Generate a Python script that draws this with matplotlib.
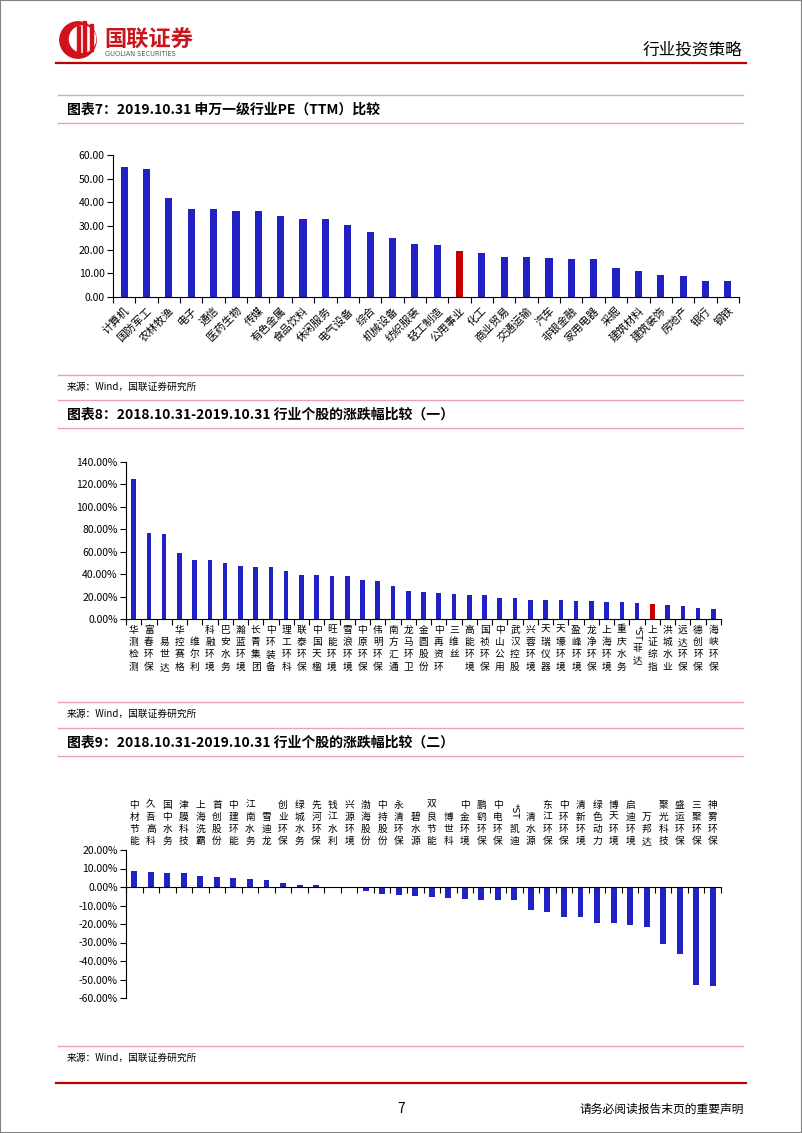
import matplotlib
matplotlib.use('Agg')
import matplotlib.pyplot as plt
from matplotlib.lines import Line2D
from matplotlib.patches import Circle, Rectangle
from matplotlib.ticker import FuncFormatter
import numpy as np

plt.rcParams['font.family'] = ['Noto Sans CJK SC', 'DejaVu Sans']

# 图表7 申万一级行业 PE(TTM)
pe_inds = ['计算机', '国防军工', '农林牧渔', '电子', '通信', '医药生物', '传媒', '有色金属',
           '食品饮料', '休闲服务', '电气设备', '综合', '机械设备', '纺织服装', '轻工制造',
           '公用事业', '化工', '商业贸易', '交通运输', '汽车', '非银金融', '家用电器', '采掘',
           '建筑材料', '建筑装饰', '房地产', '银行', '钢铁']
pe_vals = [55.0, 54.0, 41.8, 37.3, 37.0, 36.5, 36.2, 34.4, 33.0, 32.8, 30.4, 27.3, 24.9, 22.5,
           22.1, 19.4, 18.5, 17.0, 16.9, 16.6, 16.2, 16.1, 12.4, 11.0, 9.3, 9.0, 6.8, 6.8]

# 图表8 涨跌幅（一）
up_names = ['华测检测', '富春环保', '　易世达', '华控赛格', '　维尔利', '科融环境', '巴安水务',
            '瀚蓝环境', '长青集团', '中环装备', '理工环科', '联泰环保', '中国天楹', '旺能环境',
            '雪浪环境', '中原环保', '伟明环保', '南方汇通', '龙马环卫', '金圆股份', '中再资环',
            '三维丝', '高能环境', '国祯环保', '中山公用', '武汉控股', '兴蓉环境', '天瑞仪器',
            '天壕环境', '盈峰环境', '龙净环保', '上海环境', '重庆水务', '*ST菲达', '上证综指',
            '洪城水业', '远达环保', '德创环保', '海峡环保']
up_vals = [125.1, 76.4, 75.8, 58.9, 52.9, 52.3, 50.0, 46.9, 46.6, 46.4, 42.8, 39.5, 38.9, 38.6,
           38.3, 34.8, 33.5, 29.4, 25.0, 24.4, 23.2, 22.6, 21.4, 21.1, 19.0, 18.7, 17.2, 16.9,
           16.7, 16.0, 15.8, 15.5, 14.8, 14.2, 13.0, 12.5, 11.6, 9.8, 8.9]

# 图表9 涨跌幅（二）
dn_names = ['中材节能', '久吾高科', '国中水务', '津膜科技', '上海洗霸', '首创股份', '中建环能',
            '江南水务', '雪迪龙', '创业环保', '绿城水务', '先河环保', '钱江水利', '兴源环境',
            '渤海股份', '中持股份', '永清环保', '碧水源', '双良节能', '博世科', '中金环境',
            '鹏鹞环保', '中电环保', '*ST凯迪', '清水源', '东江环保', '中环环保', '清新环境',
            '绿色动力', '博天环境', '启迪环境', '万邦达', '聚光科技', '盛运环保', '三聚环保',
            '神雾环保']
dn_vals = [8.9, 8.2, 7.7, 7.6, 5.9, 5.5, 4.6, 4.2, 3.7, 2.3, 1.3, 1.1, 0.2, -0.6, -1.9, -3.7,
           -4.2, -5.1, -5.5, -5.7, -6.6, -6.9, -7.1, -7.1, -12.6, -13.4, -16.0, -16.3, -19.2,
           -19.7, -20.5, -21.4, -30.8, -36.2, -52.8, -53.5]

BLUE = '#2121c4'
RED = '#c40000'
PINK = '#e7a4b8'

W, H = 802, 1133
fig = plt.figure(figsize=(8.02, 11.33), dpi=100)


def fx(x):
    return x / W


def fy(y):
    return 1 - y / H


def hline(y, x0, x1, color, lw):
    fig.add_artist(Line2D([fx(x0), fx(x1)], [fy(y), fy(y)], color=color, lw=lw))


def make_axes(x0, x1, ytop, ybot):
    ax = fig.add_axes([fx(x0), fy(ybot), fx(x1) - fx(x0), (ybot - ytop) / H])
    for s in ['top', 'right']:
        ax.spines[s].set_visible(False)
    for s in ['left', 'bottom']:
        ax.spines[s].set_linewidth(0.8)
    ax.tick_params(axis='y', length=4, width=0.8, direction='out', labelsize=7.5, pad=2)
    return ax


def stacked_labels(ax, names, below=True, fs=7, ls=1.3, off=4):
    for i, name in enumerate(names):
        st = ''
        if name.startswith('*ST'):
            st, name = '*ST', name[3:]
        body = '\n'.join(name)
        if below:
            if st:
                ax.annotate(st, (i, 0), xycoords=('data', 'axes fraction'),
                            xytext=(0, -off), textcoords='offset points', rotation=-90,
                            ha='center', va='top', fontsize=6.5, family='DejaVu Sans')
                yo = -off - 13
            else:
                yo = -off
            ax.annotate(body, (i, 0), xycoords=('data', 'axes fraction'),
                        xytext=(0, yo), textcoords='offset points', ha='center', va='top',
                        fontsize=fs, linespacing=ls)
        else:
            ax.annotate(body, (i, 1), xycoords=('data', 'axes fraction'),
                        xytext=(0, off), textcoords='offset points', ha='center', va='bottom',
                        fontsize=fs, linespacing=ls)
            if st:
                nl = len(name)
                ax.annotate(st, (i, 1), xycoords=('data', 'axes fraction'),
                            xytext=(0, off + nl * fs * ls * 1.05 + 1), textcoords='offset points',
                            rotation=-90, ha='center', va='bottom', fontsize=6.5,
                            family='DejaVu Sans')


# page frame
fig.add_artist(Rectangle((0, 0), 1, 1, transform=fig.transFigure, fill=False,
                         ec='#808080', lw=1.5))

# header
logo = fig.add_axes([fx(58), fy(60), fx(40), 40 / H])
logo.set_xlim(-1.1, 1.1)
logo.set_ylim(-1.1, 1.1)
logo.set_aspect('equal')
logo.axis('off')
logo.add_patch(Circle((0, 0), 1.0, color='#d1121b'))
logo.add_patch(Circle((0.25, 0.05), 0.72, color='white'))
for xb, yb, hb in [(-0.05, -0.75, 1.5), (0.3, -0.7, 1.75), (0.65, -0.6, 1.5)]:
    logo.add_patch(Rectangle((xb, yb), 0.16, hb, color='#d1121b'))
fig.text(fx(104), fy(40), '国联证券', fontsize=16, fontweight='bold', color='#c8161d',
         va='center', ha='left')
fig.text(fx(105), fy(54), 'GUOLIAN SECURITIES', fontsize=4.8, color='#555555',
         va='center', ha='left', family='DejaVu Sans')
fig.text(fx(742), fy(50), '行业投资策略', fontsize=12, va='center', ha='right')
hline(63, 56, 746, '#c00000', 1.6)

# titles / sources / separators
titles = [(110, '图表7：2019.10.31 申万一级行业PE（TTM）比较'),
          (415, '图表8：2018.10.31-2019.10.31 行业个股的涨跌幅比较（一）'),
          (743, '图表9：2018.10.31-2019.10.31 行业个股的涨跌幅比较（二）')]
for y, t in titles:
    hline(y - 15, 58, 743, PINK, 1.0)
    fig.text(fx(67), fy(y), t, fontsize=10, fontweight='bold', style='italic',
             va='center', ha='left')
    hline(y + 13, 58, 743, PINK, 1.0)

for y in [375, 702, 1046]:
    hline(y, 58, 743, PINK, 1.0)
    fig.text(fx(67), fy(y + 12), '来源：Wind，国联证券研究所', fontsize=7, va='center', ha='left')

# footer
hline(1083, 56, 746, '#c00000', 1.6)
fig.text(fx(401), fy(1109), '7', fontsize=10, va='center', ha='center')
fig.text(fx(744), fy(1109), '请务必阅读报告末页的重要声明', fontsize=8.5, va='center', ha='right')

# chart 7
ax1 = make_axes(113, 739, 155, 297)
n1 = len(pe_inds)
x1 = np.arange(n1)
c1 = [RED if c == '公用事业' else BLUE for c in pe_inds]
ax1.bar(x1, pe_vals, width=0.32, color=c1)
ax1.set_xlim(-0.5, n1 - 0.5)
ax1.set_ylim(0, 60)
ax1.set_yticks(np.arange(0, 61, 10))
ax1.yaxis.set_major_formatter(FuncFormatter(lambda v, p: f'{v:.2f}'))
ax1.set_xticks(x1)
ax1.set_xticklabels(pe_inds, rotation=45, ha='right', rotation_mode='anchor', fontsize=7.8)
ax1.tick_params(axis='x', which='major', length=0, pad=6)
ax1.set_xticks(np.arange(-0.5, n1, 1), minor=True)
ax1.tick_params(axis='x', which='minor', length=4, width=0.8, direction='out')

# chart 8
ax2 = make_axes(126, 721, 462, 619)
n2 = len(up_names)
x2 = np.arange(n2)
c2 = [RED if c == '上证综指' else BLUE for c in up_names]
ax2.bar(x2, up_vals, width=0.3, color=c2)
ax2.set_xlim(-0.5, n2 - 0.5)
ax2.set_ylim(0, 140)
ax2.set_yticks(np.arange(0, 141, 20))
ax2.yaxis.set_major_formatter(FuncFormatter(lambda v, p: f'{v:.2f}%'))
ax2.set_xticks([])
ax2.set_xticks(np.arange(-0.5, n2, 1), minor=True)
ax2.tick_params(axis='x', which='minor', length=4, width=0.8, direction='out')
stacked_labels(ax2, up_names, below=True, fs=7, ls=1.3, off=4)

# chart 9
ax3 = make_axes(126, 721, 850, 998)
n3 = len(dn_names)
x3 = np.arange(n3)
ax3.bar(x3, dn_vals, width=0.36, color=BLUE)
ax3.set_xlim(-0.5, n3 - 0.5)
ax3.set_ylim(-60, 20)
ax3.set_yticks(np.arange(-60, 21, 10))
ax3.yaxis.set_major_formatter(FuncFormatter(lambda v, p: f'{v:.2f}%'))
ax3.spines['bottom'].set_position(('data', 0))
ax3.set_xticks([])
ax3.set_xticks(np.arange(-0.5, n3, 1), minor=True)
ax3.tick_params(axis='x', which='minor', length=4, width=0.8, direction='out')
stacked_labels(ax3, dn_names, below=False, fs=7, ls=1.25, off=3)

fig.savefig('out.png', dpi=100)
